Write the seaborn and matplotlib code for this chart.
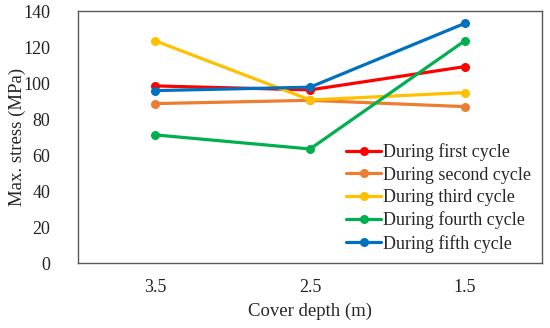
import pandas as pd
import matplotlib.pyplot as plt
import seaborn as sns

# カバー深さ (m)
depth = ["3.5", "2.5", "1.5"]
cycles = ["During first cycle", "During second cycle", "During third cycle",
          "During fourth cycle", "During fifth cycle"]
first = [98.5, 96.3, 109.2]
second = [88.7, 90.5, 87.0]
third = [123.5, 90.7, 94.8]
fourth = [71.3, 63.5, 123.5]
fifth = [95.9, 97.8, 133.2]
colors = ["#FF0000", "#ED7D31", "#FFC000", "#00B050", "#0070C0"]

rows = []
for name, vals in zip(cycles, [first, second, third, fourth, fifth]):
    for d, v in zip(depth, vals):
        rows.append({"depth": d, "stress": v, "cycle": name})
df = pd.DataFrame(rows)

sns.set_style("white")
plt.rcParams['font.family'] = ['Liberation Serif', 'DejaVu Serif']

fig, ax = plt.subplots(figsize=(5.5, 3.28), dpi=100)
fig.subplots_adjust(left=0.142, right=0.9855, top=0.966, bottom=0.197)

sns.lineplot(ax=ax, data=df, x="depth", y="stress", hue="cycle",
             palette=colors, marker="o", markersize=6.5, markeredgewidth=0,
             linewidth=2.3)

ax.set_xlim(-0.5, 2.5)
ax.set_ylim(0, 140)
ax.set_yticks(range(0, 141, 20))
ax.tick_params(axis="both", length=0, labelsize=13, colors="#222222")
ax.tick_params(axis="y", pad=20)
ax.tick_params(axis="x", pad=11)
ax.set_xlabel("Cover depth (m)", fontsize=13.5, labelpad=5)
ax.set_ylabel("Max. stress (MPa)", fontsize=13.5)
ax.yaxis.set_label_coords(-0.113, 0.5)
for s in ax.spines.values():
    s.set_color("#595959")
    s.set_linewidth(1.0)

ax.legend(loc="lower right", frameon=False, fontsize=13, title=None,
          handlelength=1.95, handletextpad=0.1, labelspacing=0.3,
          borderaxespad=0.3, borderpad=0.3)

plt.savefig("out.png", dpi=100)
